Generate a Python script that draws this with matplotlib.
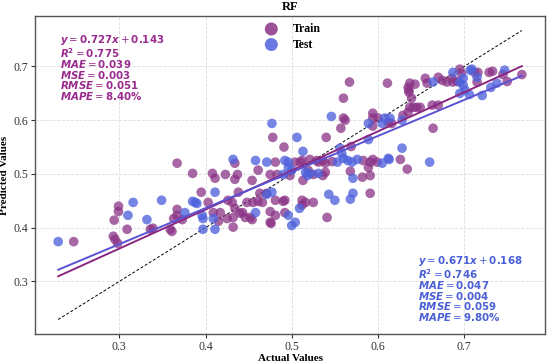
import numpy as np
import matplotlib
matplotlib.use("Agg")
import matplotlib.pyplot as plt

# Train points (actual, predicted)
train_x = [0.247, 0.293, 0.295, 0.298, 0.294, 0.299, 0.299, 0.309, 0.336, 0.339,
           0.359, 0.361, 0.363, 0.367, 0.367, 0.373, 0.367, 0.385, 0.395, 0.403,
           0.409, 0.415, 0.408, 0.411, 0.423, 0.426, 0.417, 0.425, 0.432, 0.438,
           0.432, 0.440, 0.448, 0.454, 0.455, 0.471, 0.475, 0.476, 0.481, 0.434,
           0.437, 0.434, 0.431, 0.434, 0.443, 0.446, 0.452, 0.454, 0.461, 0.461,
           0.466, 0.463, 0.481, 0.475, 0.490, 0.492, 0.475, 0.483, 0.481, 0.478,
           0.491, 0.492, 0.504, 0.512, 0.521, 0.529, 0.525, 0.513, 0.536, 0.512,
           0.516, 0.512, 0.525, 0.541, 0.498, 0.519, 0.539, 0.531, 0.536, 0.547,
           0.540, 0.557, 0.560, 0.562, 0.560, 0.567, 0.568, 0.582, 0.591, 0.589,
           0.591, 0.569, 0.583, 0.591, 0.594, 0.599, 0.626, 0.634, 0.594, 0.594,
           0.600, 0.594, 0.612, 0.616, 0.611, 0.629, 0.635, 0.637, 0.645, 0.649,
           0.663, 0.670, 0.664, 0.635, 0.643, 0.636, 0.639, 0.637, 0.655, 0.657,
           0.670, 0.675, 0.680, 0.687, 0.686, 0.692, 0.641, 0.695, 0.697, 0.712,
           0.716, 0.715, 0.729, 0.733, 0.745, 0.750, 0.767, 0.636, 0.510, 0.539]
train_y = [0.374, 0.384, 0.378, 0.371, 0.414, 0.440, 0.430, 0.397, 0.397, 0.399,
           0.397, 0.393, 0.417, 0.423, 0.434, 0.415, 0.520, 0.501, 0.466, 0.447,
           0.428, 0.412, 0.501, 0.492, 0.499, 0.451, 0.428, 0.417, 0.419, 0.466,
           0.401, 0.427, 0.447, 0.415, 0.447, 0.464, 0.430, 0.408, 0.451, 0.520,
           0.499, 0.490, 0.447, 0.436, 0.428, 0.419, 0.419, 0.488, 0.507, 0.449,
           0.447, 0.464, 0.423, 0.410, 0.449, 0.428, 0.499, 0.499, 0.522, 0.568,
           0.550, 0.451, 0.522, 0.525, 0.527, 0.525, 0.499, 0.488, 0.497, 0.451,
           0.447, 0.442, 0.447, 0.419, 0.497, 0.507, 0.503, 0.522, 0.525, 0.523,
           0.568, 0.585, 0.604, 0.600, 0.641, 0.671, 0.505, 0.494, 0.497, 0.512,
           0.464, 0.551, 0.525, 0.522, 0.527, 0.522, 0.527, 0.509, 0.613, 0.604,
           0.604, 0.589, 0.596, 0.594, 0.669, 0.609, 0.615, 0.624, 0.624, 0.624,
           0.628, 0.628, 0.585, 0.661, 0.667, 0.652, 0.641, 0.669, 0.678, 0.669,
           0.680, 0.674, 0.671, 0.671, 0.678, 0.672, 0.624, 0.695, 0.687, 0.689,
           0.689, 0.671, 0.689, 0.691, 0.685, 0.672, 0.685, 0.656, 0.522, 0.520]

# Test points (actual, predicted)
test_x = [0.229, 0.310, 0.316, 0.332, 0.349, 0.376, 0.385, 0.390, 0.396, 0.397,
          0.397, 0.411, 0.411, 0.409, 0.432, 0.458, 0.458, 0.471, 0.471, 0.477,
          0.477, 0.492, 0.496, 0.500, 0.490, 0.518, 0.506, 0.513, 0.496, 0.500,
          0.504, 0.509, 0.496, 0.553, 0.558, 0.560, 0.565, 0.570, 0.576, 0.605,
          0.613, 0.516, 0.521, 0.531, 0.571, 0.571, 0.568, 0.550, 0.543, 0.546,
          0.589, 0.589, 0.556, 0.628, 0.605, 0.608, 0.614, 0.628, 0.660, 0.612,
          0.664, 0.687, 0.695, 0.699, 0.699, 0.701, 0.695, 0.706, 0.707, 0.709,
          0.715, 0.721, 0.731, 0.738, 0.747, 0.388]
test_y = [0.374, 0.423, 0.447, 0.415, 0.451, 0.428, 0.449, 0.445, 0.423, 0.417,
          0.397, 0.466, 0.397, 0.417, 0.527, 0.525, 0.428, 0.522, 0.462, 0.466,
          0.594, 0.525, 0.512, 0.507, 0.499, 0.497, 0.568, 0.542, 0.423, 0.404,
          0.410, 0.436, 0.522, 0.522, 0.538, 0.529, 0.525, 0.522, 0.527, 0.520,
          0.527, 0.503, 0.501, 0.501, 0.492, 0.464, 0.453, 0.451, 0.462, 0.607,
          0.594, 0.564, 0.548, 0.548, 0.594, 0.604, 0.604, 0.600, 0.522, 0.529,
          0.671, 0.689, 0.671, 0.678, 0.665, 0.656, 0.650, 0.648, 0.693, 0.695,
          0.680, 0.646, 0.661, 0.669, 0.693, 0.447]

# fitted lines and metrics as printed on the chart
train_fit = (0.727, 0.143)
test_fit = (0.671, 0.168)
train_stats = ["0.727", "0.143", "0.775", "0.039", "0.003", "0.051", "8.40"]
test_stats = ["0.671", "0.168", "0.746", "0.047", "0.004", "0.059", "9.80"]

train_c = "#8A3386"
test_c = "#4F62DC"
train_line = "#8A2880"
test_line = "#5A52D2"
train_txt = "#9A2B8E"
test_txt = "#4A5FD5"

serif = "Liberation Serif"

fig = plt.figure(figsize=(5.5, 3.63), dpi=100)
ax = fig.add_axes([0.0636, 0.0799, 0.9274, 0.876])

ax.scatter(train_x, train_y, s=48, color=train_c, alpha=0.75, edgecolors="none",
           label="Train", zorder=3)
ax.scatter(test_x, test_y, s=48, color=test_c, alpha=0.78, edgecolors="none",
           label="Test", zorder=3)

all_x = np.array(train_x + test_x)
xs = np.array([all_x.min(), all_x.max()])
ax.plot(xs, xs, "k--", lw=0.7, dashes=(3, 2), zorder=2)
ax.plot(xs, train_fit[0] * xs + train_fit[1], color=train_line, lw=1.4, zorder=4)
ax.plot(xs, test_fit[0] * xs + test_fit[1], color=test_line, lw=1.4, zorder=4)


def stat_text(s):
    lines = [
        r"$\mathbfit{y} = \mathbf{%s}\mathbfit{x} + \mathbf{%s}$" % (s[0], s[1]),
        r"$\mathbfit{R}^{\mathbf{2}} = \mathbf{%s}$" % s[2],
        r"$\mathbfit{MAE} = \mathbf{%s}$" % s[3],
        r"$\mathbfit{MSE} = \mathbf{%s}$" % s[4],
        r"$\mathbfit{RMSE} = \mathbf{%s}$" % s[5],
        r"$\mathbfit{MAPE} = \mathbf{%s\%%}$" % s[6],
    ]
    return "\n".join(lines)


ax.text(0.05, 0.945, stat_text(train_stats), transform=ax.transAxes, va="top",
        ha="left", fontsize=7.4, color=train_txt, linespacing=0.86)
ax.text(0.751, 0.25, stat_text(test_stats), transform=ax.transAxes, va="top",
        ha="left", fontsize=7.4, color=test_txt, linespacing=0.86)

ax.set_xticks([0.3, 0.4, 0.5, 0.6, 0.7])
ax.set_yticks([0.3, 0.4, 0.5, 0.6, 0.7])
for lab in ax.get_xticklabels() + ax.get_yticklabels():
    lab.set_fontfamily(serif)
    lab.set_fontsize(8.5)
ax.tick_params(length=3, width=0.8, colors="#333333", pad=2)
ax.grid(True, color="#dddddd", lw=0.6, ls="--")
ax.set_axisbelow(True)
for sp in ax.spines.values():
    sp.set_color("#555555")
    sp.set_linewidth(1.0)

ax.set_xlabel("Actual Values", fontfamily=serif, fontweight="bold", fontsize=8, labelpad=1)
ax.set_ylabel("Predicted Values", fontfamily=serif, fontweight="bold", fontsize=8, labelpad=3)
ax.set_title("RF", fontfamily=serif, fontweight="bold", fontsize=9, pad=4)

leg = ax.legend(loc="upper center", frameon=False, markerscale=1.35,
                prop={"family": serif, "weight": "bold", "size": 8.5},
                handletextpad=0.8, labelspacing=0.3, borderaxespad=0.2)
for h in leg.legend_handles:
    h.set_alpha(0.85)

fig.savefig("out.png", dpi=100)
